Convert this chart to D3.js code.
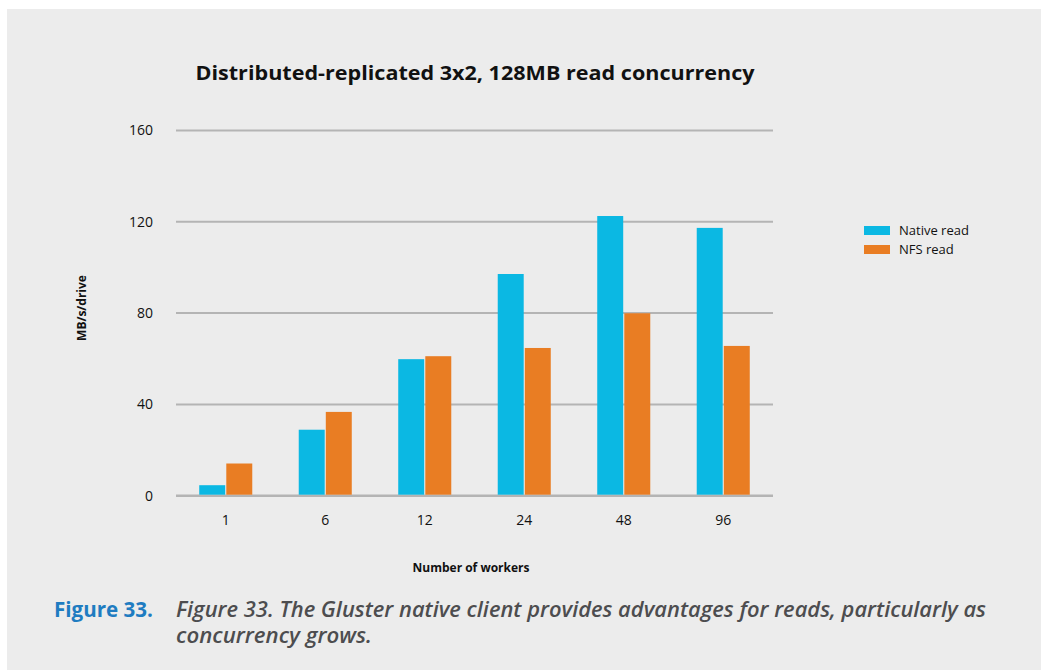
<!DOCTYPE html>
<html>
<head>
<meta charset="utf-8">
<script src="https://cdn.jsdelivr.net/npm/d3@7"></script>
<style>
  body { margin: 0; background: #fff; }
  text { font-family: "Open Sans", "Noto Sans", sans-serif; fill: #111; }
</style>
</head>
<body>
<svg id="chart" width="1041" height="670"></svg>
<script>
const workers = ["1", "6", "12", "24", "48", "96"];
const seriesNames = ["Native read", "NFS read"];
const nativeRead = [4.6, 28.9, 59.8, 97.1, 122.5, 117.3];
const nfsRead = [14.1, 36.7, 61.1, 64.7, 79.9, 65.6];
const yTicks = [0, 40, 80, 120, 160];
const colors = ["#0bb8e3", "#e97d23"];

const svg = d3.select("#chart");

// panel background
svg.append("rect")
  .attr("x", 7).attr("y", 9)
  .attr("width", 1034).attr("height", 661)
  .attr("fill", "#ececec");

const plot = { left: 176, right: 773, top: 130.4, bottom: 495.7 };

const y = d3.scaleLinear()
  .domain([0, 160])
  .range([plot.bottom, plot.top]);

const x0 = d3.scaleBand()
  .domain(workers)
  .range([plot.left, plot.right])
  .paddingInner(0.467)
  .paddingOuter(0.2335);

const x1 = d3.scaleBand()
  .domain(seriesNames)
  .range([0, x0.bandwidth()])
  .paddingInner(0.04);

// gridlines
svg.append("g")
  .selectAll("line")
  .data(yTicks)
  .join("line")
  .attr("x1", plot.left)
  .attr("x2", plot.right)
  .attr("y1", d => y(d))
  .attr("y2", d => y(d))
  .attr("stroke", "#b4b4b4")
  .attr("stroke-width", d => (d === 0 ? 2.5 : 2));

// y tick labels
svg.append("g")
  .selectAll("text")
  .data(yTicks)
  .join("text")
  .attr("x", 153)
  .attr("y", d => y(d) + 5)
  .attr("text-anchor", "end")
  .style("font-size", "14px")
  .text(d => d);

// bars
const rows = workers.map((w, i) => ({ w, values: [nativeRead[i], nfsRead[i]] }));

const groups = svg.append("g")
  .selectAll("g")
  .data(rows)
  .join("g")
  .attr("transform", d => `translate(${x0(d.w)},0)`);

groups.selectAll("rect")
  .data(d => d.values.map((v, j) => ({ key: seriesNames[j], v, j })))
  .join("rect")
  .attr("x", d => x1(d.key))
  .attr("width", x1.bandwidth())
  .attr("y", d => y(d.v))
  .attr("height", d => y(0) - y(d.v) - 1)
  .attr("fill", d => colors[d.j]);

// x tick labels
svg.append("g")
  .selectAll("text")
  .data(workers)
  .join("text")
  .attr("x", d => x0(d) + x0.bandwidth() / 2)
  .attr("y", 525)
  .attr("text-anchor", "middle")
  .style("font-size", "14px")
  .text(d => d);

// title
svg.append("text")
  .attr("x", 475)
  .attr("y", 80)
  .attr("text-anchor", "middle")
  .attr("textLength", 559)
  .attr("lengthAdjust", "spacingAndGlyphs")
  .style("font-size", "19px")
  .style("font-weight", 700)
  .text("Distributed-replicated 3x2, 128MB read concurrency");

// axis titles
svg.append("text")
  .attr("transform", "translate(86,308) rotate(-90)")
  .attr("text-anchor", "middle")
  .style("font-size", "12px")
  .style("font-weight", 700)
  .text("MB/s/drive");

svg.append("text")
  .attr("x", 471)
  .attr("y", 572)
  .attr("text-anchor", "middle")
  .style("font-size", "12px")
  .style("font-weight", 700)
  .text("Number of workers");

// legend
const legend = svg.append("g")
  .selectAll("g")
  .data(seriesNames)
  .join("g")
  .attr("transform", (d, i) => `translate(864,${226 + i * 19})`);

legend.append("rect")
  .attr("width", 26)
  .attr("height", 9)
  .attr("fill", (d, i) => colors[i]);

legend.append("text")
  .attr("x", 35)
  .attr("y", 9)
  .style("font-size", "13px")
  .text(d => d);

// caption
svg.append("text")
  .attr("x", 54)
  .attr("y", 617)
  .attr("textLength", 99)
  .attr("lengthAdjust", "spacingAndGlyphs")
  .style("font-size", "21px")
  .style("font-weight", 700)
  .style("fill", "#1f7cc1")
  .text("Figure 33.");

const captionLines = [
  "Figure 33. The Gluster native client provides advantages for reads, particularly as",
  "concurrency grows."
];
const captionWidths = [810, 196];

svg.append("g")
  .selectAll("text")
  .data(captionLines)
  .join("text")
  .attr("x", 176)
  .attr("y", (d, i) => 617 + i * 26)
  .attr("textLength", (d, i) => captionWidths[i])
  .attr("lengthAdjust", "spacingAndGlyphs")
  .style("font-size", "21px")
  .style("font-style", "italic")
  .style("font-weight", 600)
  .style("fill", "#4d4d4f")
  .text(d => d);
</script>
</body>
</html>
